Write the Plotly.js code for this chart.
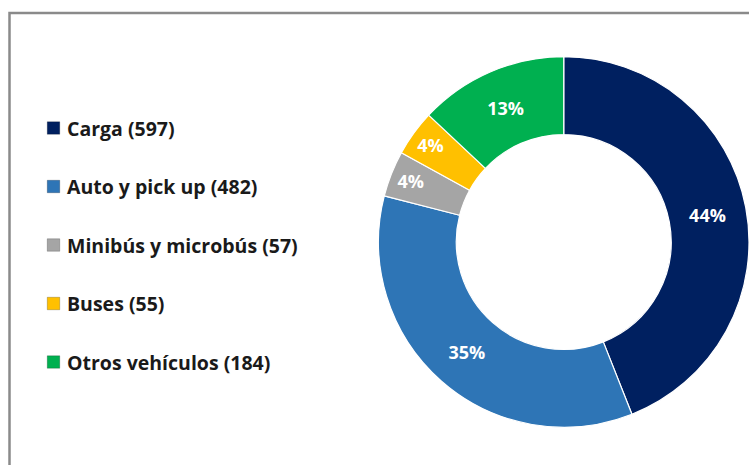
<!DOCTYPE html>
<html>
<head>
<meta charset="utf-8">
<script src="https://cdn.plot.ly/plotly-3.0.1.min.js"></script>
<style>
  html, body { margin: 0; padding: 0; background: #ffffff; }
  #chart { width: 749px; height: 465px; }
</style>
</head>
<body>
<div id="chart"></div>
<script>
// Vehicle categories, their counts and their share of the total (%)
const categories = ['Carga', 'Auto y pick up', 'Minibús y microbús', 'Buses', 'Otros vehículos'];
const counts = [597, 482, 57, 55, 184];
const shares = [44, 35, 4, 4, 13];
const colors = ['#002060', '#2E75B6', '#A5A5A5', '#FFC000', '#00B050'];

const legendLabels = categories.map((c, i) => c + ' (' + counts[i] + ')');

const W = 749, H = 465;

const donut = {
  type: 'pie',
  labels: categories,
  values: shares,
  sort: false,
  direction: 'clockwise',
  rotation: 0,
  hole: 0.58,
  marker: { colors: colors, line: { color: '#ffffff', width: 1.2 } },
  texttemplate: '%{percent:.0%}',
  textposition: 'inside',
  insidetextorientation: 'horizontal',
  textfont: { family: 'Open Sans', size: 18, color: '#ffffff', weight: 'bold' },
  domain: { x: [0.5053, 1], y: [0.0796, 0.8796] },
  showlegend: false,
  hoverinfo: 'label+value+percent'
};

// Left-hand legend: coloured swatch plus bold label per category
const legendTop = 128, legendStep = 58.5, swatchX = 53.5, textX = 65, swatch = 12.5;
const annotations = legendLabels.map((t, i) => ({
  xref: 'paper', yref: 'paper',
  x: textX / W, y: 1 - (legendTop + i * legendStep) / H,
  xanchor: 'left', yanchor: 'middle',
  text: t, showarrow: false,
  font: { family: 'Open Sans', size: 19.5, color: '#1a1a1a', weight: 'bold' }
}));
const shapes = colors.map((c, i) => {
  const cy = legendTop + i * legendStep;
  return {
    type: 'rect', xref: 'paper', yref: 'paper',
    x0: (swatchX - swatch / 2) / W, x1: (swatchX + swatch / 2) / W,
    y0: 1 - (cy + swatch / 2) / H, y1: 1 - (cy - swatch / 2) / H,
    fillcolor: c, line: { color: 'rgba(0,0,0,0.35)', width: 0.6 }
  };
});
// Chart frame (top and left edges in view)
shapes.push({
  type: 'rect', xref: 'paper', yref: 'paper',
  x0: 9.5 / W, x1: 1.02, y0: -0.02, y1: 1 - 13 / H,
  line: { color: '#8a8a8a', width: 2.5 }, fillcolor: 'rgba(0,0,0,0)'
});

const layout = {
  width: W, height: H,
  margin: { l: 0, r: 0, t: 0, b: 0, pad: 0 },
  paper_bgcolor: '#ffffff',
  plot_bgcolor: '#ffffff',
  showlegend: false,
  annotations: annotations,
  shapes: shapes
};

Plotly.newPlot('chart', [donut], layout, { displayModeBar: false, staticPlot: true });
</script>
</body>
</html>
